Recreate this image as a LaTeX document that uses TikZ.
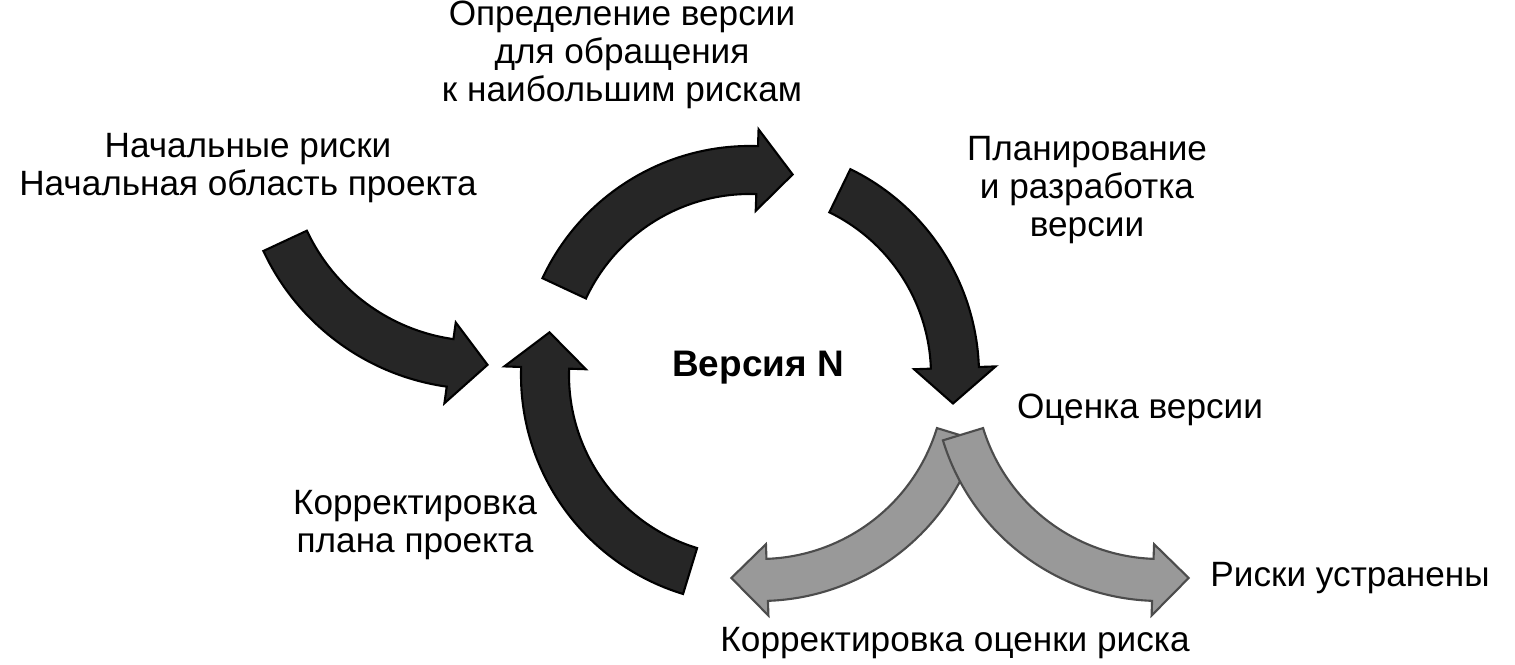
\documentclass[tikz,border=0pt]{standalone}
\usepackage{fontspec}
\setmainfont{Liberation Sans}
\newcommand\blockarc[8]{%
\begin{scope}[shift={(#2,#3)}]
\filldraw[#1] (#5:{#4+#7/2}) arc[start angle=#5,end angle=#6,radius={#4+#7/2}]
 -- (#6:{#4+0.85*#7}) -- (#8:#4) -- (#6:{#4-0.85*#7}) -- (#6:{#4-#7/2})
 arc[start angle=#6,end angle=#5,radius={#4-#7/2}] -- cycle;
\end{scope}}
\begin{document}
\begin{tikzpicture}[x=0.01cm,y=0.01cm,
  dark/.style={fill=black!85,draw=black,line width=0.6pt},
  grey/.style={fill=black!40,draw=black!70,line width=0.6pt},
  lbl/.style={font=\fontsize{10}{10.8}\selectfont,align=center,inner sep=0pt}]
\useasboundingbox (0,0) rectangle (1515,665);
\fill[white] (0,0) rectangle (1515,665);
\blockarc{dark}{750}{290}{205}{155}{88}{48}{78}
\blockarc{dark}{750}{290}{205}{64}{2}{48}{-8}
\blockarc{dark}{750}{290}{205}{253}{178}{48}{168}
\blockarc{dark}{480}{515}{215}{205}{262}{48}{272}
\blockarc{grey}{760}{291}{206}{-17}{-88}{42}{-98}
\blockarc{grey}{1160}{291}{206}{197}{268}{42}{278}
\node[lbl] (t1) at (622,610) {Определение версии\\для обращения\\к наибольшим рискам};
\node[lbl] (t2) at (248,497) {Начальные риски\\Начальная область проекта};
\node[lbl] (t3) at (1087,475) {Планирование\\и разработка\\версии};
\node[lbl,font=\fontsize{10.5}{12}\selectfont\bfseries] (t4) at (758,297) {Версия N};
\node[lbl] (t5) at (1140,255) {Оценка версии};
\node[lbl] (t6) at (415,140) {Корректировка\\плана проекта};
\node[lbl] (t7) at (1350,87) {Риски устранены};
\node[lbl] (t8) at (955,22) {Корректировка оценки риска};
\end{tikzpicture}
\end{document}
